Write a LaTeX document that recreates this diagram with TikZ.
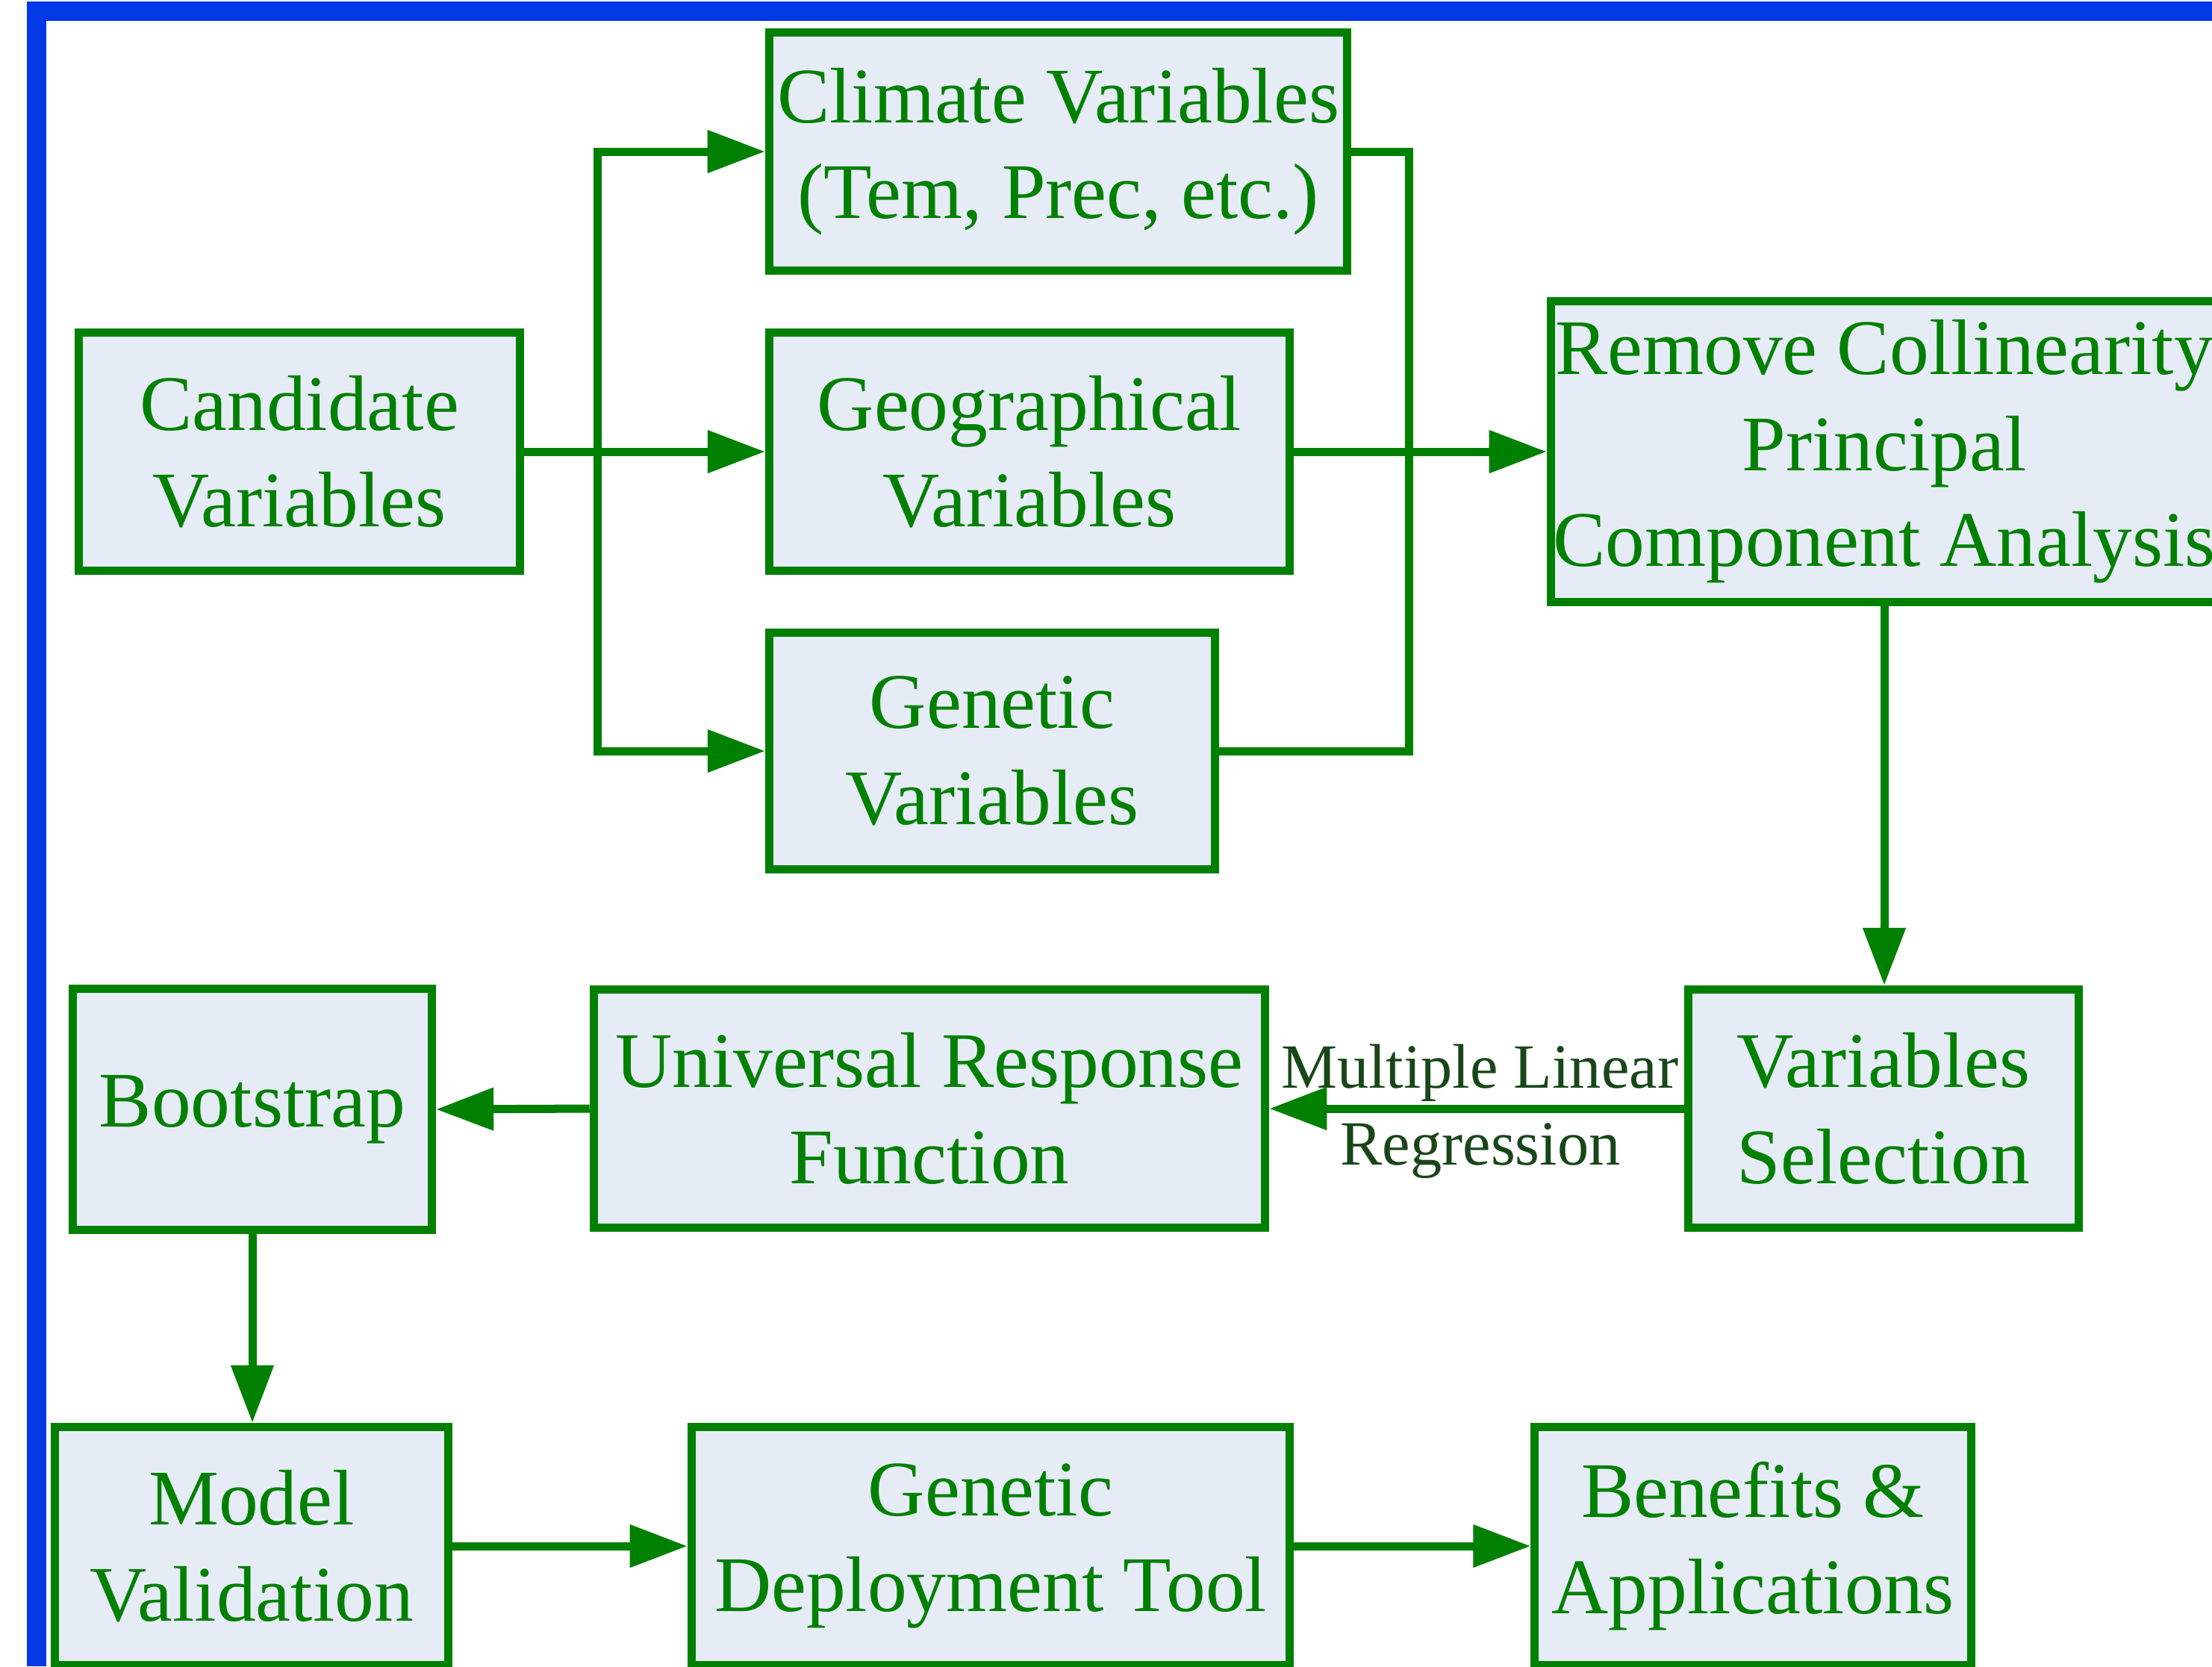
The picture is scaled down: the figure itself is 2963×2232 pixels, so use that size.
\documentclass[tikz,border=0pt]{standalone}
\usepackage{fontspec}
\setmainfont{Liberation Serif}
\usetikzlibrary{arrows.meta}
\definecolor{dgreen}{RGB}{0,128,0}
\definecolor{boxfill}{RGB}{230,236,246}
\definecolor{frameblue}{RGB}{2,56,230}
\definecolor{labgreen}{RGB}{25,70,25}
\begin{document}
\begin{tikzpicture}[x=0.01cm,y=-0.01cm,
  box/.style={draw=dgreen, line width=1.1mm, fill=boxfill, text=dgreen, align=center, inner sep=0pt, font=\fontsize{30}{36.5}\selectfont},
  conn/.style={draw=dgreen, line width=1.1mm},
  arr/.style={conn, -{Triangle[length=7.7mm,width=5.5mm]}},
  lab/.style={text=labgreen, inner sep=0pt, font=\fontsize{24}{29}\selectfont}
]
\useasboundingbox (0,0) rectangle (2963,2232);
\fill[white] (0,0) rectangle (2963,2232);
% blue frame
\fill[frameblue] (36,2) rectangle (2963,28);
\fill[frameblue] (36,2) rectangle (62,2232);

% boxes
\node[box, minimum width=5.91cm, minimum height=3.19cm] (cand) at (401,605) {Candidate\\Variables};
\node[box, minimum width=7.74cm, minimum height=3.19cm] (clim) at (1417.5,203) {Climate Variables\\(Tem, Prec, etc.)};
\node[box, minimum width=6.97cm, minimum height=3.19cm] (geo) at (1379,605) {Geographical\\Variables};
\node[box, minimum width=5.97cm, minimum height=3.17cm] (gen) at (1329,1006) {Genetic\\Variables};
\node[box, minimum width=8.93cm, minimum height=4.03cm] (rem) at (2524,605) {Remove Collinearity\\Principal\\Component Analysis};
\node[box, minimum width=5.23cm, minimum height=3.19cm] (vs) at (2523,1485) {Variables\\Selection};
\node[box, minimum width=8.99cm, minimum height=3.19cm] (urf) at (1245,1485) {Universal Response\\Function};
\node[box, minimum width=4.81cm, minimum height=3.23cm] (boot) at (338,1486) {Bootstrap};
\node[box, minimum width=5.26cm, minimum height=3.19cm] (mv) at (337,2071) {Model\\Validation};
\node[box, minimum width=8.01cm, minimum height=3.19cm] (gdt) at (1327,2071) {Genetic\\Deployment Tool};
\node[box, minimum width=5.84cm, minimum height=3.19cm] (ba) at (2348,2071) {Benefits \&\\Applications};

% label
\node[lab, anchor=base] (ml1) at (1982,1457) {Multiple Linear};
\node[lab, anchor=base] (ml2) at (1983,1560) {Regression};

% connectors
\coordinate (jl) at (800,605);
\coordinate (jr) at (1887,605);
\draw[conn] (cand.east) -- (jl);
\draw[arr] (jl) -- (geo.west);
\draw[arr] (jl) |- (clim.west);
\draw[arr] (jl) |- (gen.west);
\draw[conn] (clim.east) -| (jr) |- (gen.east);
\draw[arr] (geo.east) -- (rem.west);
\draw[arr] (rem.south) -- (rem.south |- vs.north);
\draw[arr] (vs.west) -- (urf.east);
\draw[arr] (urf.west) -- (boot.east);
\draw[arr] (boot.south) -- (boot.south |- mv.north);
\draw[arr] (mv.east) -- (gdt.west);
\draw[arr] (gdt.east) -- (ba.west);
\end{tikzpicture}
\end{document}
